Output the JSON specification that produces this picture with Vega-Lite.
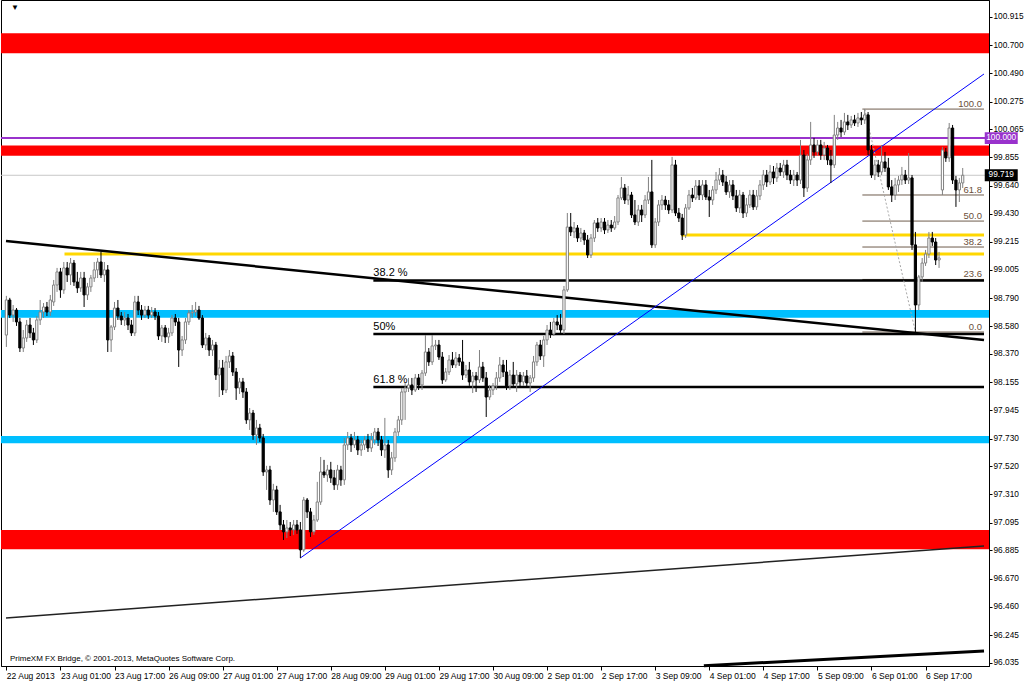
{
"$schema":"https://vega.github.io/schema/vega-lite/v6.json",
"width":988,"height":666,"autosize":"none",
"padding":{"left":1,"top":0,"right":35,"bottom":16},
"background":"#ffffff",
"config":{"view":{"stroke":"#000000","strokeWidth":1},"text":{"font":"Liberation Sans"},
 "axisX":{"labelExpr":"['22 Aug 2013','23 Aug 01:00','23 Aug 17:00','26 Aug 09:00','27 Aug 01:00','27 Aug 17:00','28 Aug 09:00','29 Aug 01:00','29 Aug 17:00','30 Aug 09:00','2 Sep 01:00','2 Sep 17:00','3 Sep 09:00','4 Sep 01:00','4 Sep 17:00','5 Sep 09:00','6 Sep 01:00','6 Sep 17:00'][round(datum.value/16)]",
    "labelAlign":"left","labelBaseline":"top","labelPadding":1,"tickSize":4,"tickColor":"#000000","domainColor":"#000000","labelColor":"#000000","labelFont":"Liberation Sans","labelFontSize":8.5,"labelOverlap":false,"labelFlush":false,"labelBound":false,"grid":false,"title":null},
 "axisY":{"tickSize":3,"labelPadding":1,"labelFont":"Liberation Sans","labelFontSize":8.3,"labelColor":"#000000","domainColor":"#000000","tickColor":"#000000","grid":false,"title":null,"labelOverlap":false,"labelFlush":false,"labelBound":false}
},
"resolve":{"scale":{"color":"independent"}},
"datasets":{
"candles":[
{"t":0,"o":98.512,"h":98.808,"l":98.422,"c":98.777},
{"t":1,"o":98.777,"h":98.793,"l":98.641,"c":98.663},
{"t":2,"o":98.663,"h":98.739,"l":98.611,"c":98.701},
{"t":3,"o":98.701,"h":98.716,"l":98.581,"c":98.611},
{"t":4,"o":98.611,"h":98.641,"l":98.384,"c":98.414},
{"t":5,"o":98.414,"h":98.550,"l":98.384,"c":98.490},
{"t":6,"o":98.490,"h":98.626,"l":98.460,"c":98.588},
{"t":7,"o":98.588,"h":98.641,"l":98.490,"c":98.528},
{"t":8,"o":98.528,"h":98.566,"l":98.437,"c":98.475},
{"t":9,"o":98.475,"h":98.656,"l":98.452,"c":98.626},
{"t":10,"o":98.626,"h":98.777,"l":98.588,"c":98.686},
{"t":11,"o":98.686,"h":98.754,"l":98.641,"c":98.724},
{"t":12,"o":98.724,"h":98.762,"l":98.656,"c":98.686},
{"t":13,"o":98.686,"h":98.815,"l":98.656,"c":98.777},
{"t":14,"o":98.762,"h":98.928,"l":98.732,"c":98.890},
{"t":15,"o":98.890,"h":99.019,"l":98.838,"c":98.989},
{"t":16,"o":98.989,"h":99.019,"l":98.793,"c":98.853},
{"t":17,"o":98.853,"h":99.064,"l":98.823,"c":99.019},
{"t":18,"o":99.019,"h":99.064,"l":98.913,"c":98.966},
{"t":19,"o":98.966,"h":99.094,"l":98.890,"c":99.056},
{"t":20,"o":99.056,"h":99.079,"l":98.883,"c":98.913},
{"t":21,"o":98.913,"h":98.989,"l":98.830,"c":98.868},
{"t":22,"o":98.868,"h":98.989,"l":98.838,"c":98.943},
{"t":23,"o":98.943,"h":98.989,"l":98.724,"c":98.815},
{"t":24,"o":98.815,"h":98.906,"l":98.777,"c":98.876},
{"t":25,"o":98.876,"h":98.966,"l":98.838,"c":98.943},
{"t":26,"o":98.943,"h":99.064,"l":98.913,"c":99.004},
{"t":27,"o":99.004,"h":99.094,"l":98.943,"c":99.064},
{"t":28,"o":99.064,"h":99.140,"l":98.943,"c":98.966},
{"t":29,"o":98.966,"h":99.064,"l":98.913,"c":99.004},
{"t":30,"o":99.004,"h":99.041,"l":98.384,"c":98.475},
{"t":31,"o":98.475,"h":98.588,"l":98.384,"c":98.573},
{"t":32,"o":98.573,"h":98.762,"l":98.550,"c":98.716},
{"t":33,"o":98.716,"h":98.777,"l":98.626,"c":98.656},
{"t":34,"o":98.656,"h":98.686,"l":98.588,"c":98.626},
{"t":35,"o":98.626,"h":98.686,"l":98.581,"c":98.641},
{"t":36,"o":98.641,"h":98.671,"l":98.550,"c":98.588},
{"t":37,"o":98.588,"h":98.626,"l":98.505,"c":98.528},
{"t":38,"o":98.528,"h":98.808,"l":98.505,"c":98.762},
{"t":39,"o":98.762,"h":98.808,"l":98.663,"c":98.701},
{"t":40,"o":98.701,"h":98.739,"l":98.626,"c":98.663},
{"t":41,"o":98.663,"h":98.732,"l":98.641,"c":98.701},
{"t":42,"o":98.701,"h":98.732,"l":98.634,"c":98.663},
{"t":43,"o":98.663,"h":98.724,"l":98.641,"c":98.686},
{"t":44,"o":98.686,"h":98.716,"l":98.626,"c":98.656},
{"t":45,"o":98.656,"h":98.686,"l":98.475,"c":98.505},
{"t":46,"o":98.505,"h":98.588,"l":98.460,"c":98.566},
{"t":47,"o":98.566,"h":98.588,"l":98.452,"c":98.498},
{"t":48,"o":98.498,"h":98.566,"l":98.452,"c":98.528},
{"t":49,"o":98.528,"h":98.663,"l":98.505,"c":98.641},
{"t":50,"o":98.641,"h":98.671,"l":98.581,"c":98.611},
{"t":51,"o":98.611,"h":98.641,"l":98.271,"c":98.399},
{"t":52,"o":98.399,"h":98.505,"l":98.354,"c":98.475},
{"t":53,"o":98.475,"h":98.641,"l":98.445,"c":98.611},
{"t":54,"o":98.611,"h":98.701,"l":98.588,"c":98.679},
{"t":55,"o":98.679,"h":98.739,"l":98.641,"c":98.686},
{"t":56,"o":98.686,"h":98.762,"l":98.656,"c":98.701},
{"t":57,"o":98.701,"h":98.732,"l":98.626,"c":98.641},
{"t":58,"o":98.641,"h":98.663,"l":98.414,"c":98.437},
{"t":59,"o":98.437,"h":98.528,"l":98.399,"c":98.490},
{"t":60,"o":98.490,"h":98.512,"l":98.354,"c":98.399},
{"t":61,"o":98.399,"h":98.475,"l":98.354,"c":98.437},
{"t":62,"o":98.437,"h":98.460,"l":98.173,"c":98.210},
{"t":63,"o":98.210,"h":98.324,"l":98.044,"c":98.263},
{"t":64,"o":98.263,"h":98.324,"l":98.059,"c":98.097},
{"t":65,"o":98.097,"h":98.354,"l":98.074,"c":98.309},
{"t":66,"o":98.309,"h":98.399,"l":98.263,"c":98.354},
{"t":67,"o":98.354,"h":98.384,"l":98.203,"c":98.233},
{"t":68,"o":98.233,"h":98.263,"l":98.022,"c":98.112},
{"t":69,"o":98.112,"h":98.188,"l":98.067,"c":98.158},
{"t":70,"o":98.158,"h":98.188,"l":98.037,"c":98.082},
{"t":71,"o":98.082,"h":98.112,"l":97.841,"c":97.871},
{"t":72,"o":97.871,"h":97.961,"l":97.795,"c":97.923},
{"t":73,"o":97.923,"h":97.946,"l":97.720,"c":97.757},
{"t":74,"o":97.757,"h":97.871,"l":97.682,"c":97.810},
{"t":75,"o":97.810,"h":97.841,"l":97.705,"c":97.735},
{"t":76,"o":97.735,"h":97.765,"l":97.448,"c":97.478},
{"t":77,"o":97.478,"h":97.524,"l":97.342,"c":97.493},
{"t":78,"o":97.493,"h":97.524,"l":97.229,"c":97.266},
{"t":79,"o":97.266,"h":97.388,"l":97.176,"c":97.342},
{"t":80,"o":97.342,"h":97.373,"l":97.153,"c":97.176},
{"t":81,"o":97.176,"h":97.229,"l":97.040,"c":97.078},
{"t":82,"o":97.078,"h":97.115,"l":96.964,"c":97.025},
{"t":83,"o":97.025,"h":97.115,"l":96.979,"c":97.055},
{"t":84,"o":97.055,"h":97.100,"l":96.994,"c":97.040},
{"t":85,"o":97.040,"h":97.115,"l":97.002,"c":97.078},
{"t":86,"o":97.078,"h":97.115,"l":97.010,"c":97.040},
{"t":87,"o":97.040,"h":97.100,"l":96.828,"c":96.889},
{"t":88,"o":96.889,"h":97.289,"l":96.874,"c":97.266},
{"t":89,"o":97.266,"h":97.281,"l":97.130,"c":97.176},
{"t":90,"o":97.176,"h":97.206,"l":96.987,"c":97.025},
{"t":91,"o":97.025,"h":97.153,"l":97.002,"c":97.115},
{"t":92,"o":97.115,"h":97.403,"l":97.100,"c":97.251},
{"t":93,"o":97.251,"h":97.591,"l":97.229,"c":97.478},
{"t":94,"o":97.478,"h":97.569,"l":97.433,"c":97.455},
{"t":95,"o":97.455,"h":97.531,"l":97.403,"c":97.493},
{"t":96,"o":97.493,"h":97.554,"l":97.395,"c":97.433},
{"t":97,"o":97.433,"h":97.493,"l":97.342,"c":97.380},
{"t":98,"o":97.380,"h":97.531,"l":97.342,"c":97.493},
{"t":99,"o":97.493,"h":97.524,"l":97.373,"c":97.418},
{"t":100,"o":97.418,"h":97.735,"l":97.380,"c":97.682},
{"t":101,"o":97.682,"h":97.780,"l":97.644,"c":97.735},
{"t":102,"o":97.735,"h":97.765,"l":97.629,"c":97.682},
{"t":103,"o":97.682,"h":97.780,"l":97.659,"c":97.720},
{"t":104,"o":97.720,"h":97.750,"l":97.606,"c":97.644},
{"t":105,"o":97.644,"h":97.720,"l":97.599,"c":97.682},
{"t":106,"o":97.682,"h":97.750,"l":97.644,"c":97.720},
{"t":107,"o":97.720,"h":97.765,"l":97.629,"c":97.659},
{"t":108,"o":97.659,"h":97.772,"l":97.629,"c":97.720},
{"t":109,"o":97.720,"h":97.810,"l":97.682,"c":97.780},
{"t":110,"o":97.780,"h":97.810,"l":97.674,"c":97.720},
{"t":111,"o":97.720,"h":97.750,"l":97.599,"c":97.644},
{"t":112,"o":97.644,"h":97.886,"l":97.584,"c":97.682},
{"t":113,"o":97.682,"h":97.720,"l":97.433,"c":97.493},
{"t":114,"o":97.493,"h":97.629,"l":97.455,"c":97.584},
{"t":115,"o":97.584,"h":97.810,"l":97.554,"c":97.780},
{"t":116,"o":97.780,"h":97.901,"l":97.750,"c":97.871},
{"t":117,"o":97.871,"h":98.112,"l":97.833,"c":98.082},
{"t":118,"o":98.082,"h":98.150,"l":97.871,"c":98.112},
{"t":119,"o":98.112,"h":98.188,"l":98.082,"c":98.135},
{"t":120,"o":98.135,"h":98.188,"l":98.059,"c":98.097},
{"t":121,"o":98.097,"h":98.218,"l":98.082,"c":98.188},
{"t":122,"o":98.188,"h":98.218,"l":98.097,"c":98.135},
{"t":123,"o":98.135,"h":98.248,"l":98.097,"c":98.225},
{"t":124,"o":98.225,"h":98.512,"l":98.203,"c":98.384},
{"t":125,"o":98.384,"h":98.414,"l":98.279,"c":98.309},
{"t":126,"o":98.309,"h":98.512,"l":98.286,"c":98.430},
{"t":127,"o":98.430,"h":98.475,"l":98.399,"c":98.437},
{"t":128,"o":98.437,"h":98.475,"l":98.324,"c":98.346},
{"t":129,"o":98.346,"h":98.384,"l":98.143,"c":98.173},
{"t":130,"o":98.173,"h":98.263,"l":98.158,"c":98.233},
{"t":131,"o":98.233,"h":98.361,"l":98.210,"c":98.324},
{"t":132,"o":98.324,"h":98.384,"l":98.263,"c":98.286},
{"t":133,"o":98.286,"h":98.384,"l":98.263,"c":98.339},
{"t":134,"o":98.339,"h":98.369,"l":98.279,"c":98.309},
{"t":135,"o":98.309,"h":98.475,"l":98.173,"c":98.210},
{"t":136,"o":98.210,"h":98.286,"l":98.188,"c":98.248},
{"t":137,"o":98.248,"h":98.309,"l":98.128,"c":98.158},
{"t":138,"o":98.158,"h":98.233,"l":98.074,"c":98.203},
{"t":139,"o":98.203,"h":98.233,"l":98.082,"c":98.173},
{"t":140,"o":98.173,"h":98.399,"l":98.150,"c":98.271},
{"t":141,"o":98.271,"h":98.309,"l":98.158,"c":98.188},
{"t":142,"o":98.188,"h":98.233,"l":97.893,"c":98.044},
{"t":143,"o":98.044,"h":98.135,"l":98.022,"c":98.097},
{"t":144,"o":98.097,"h":98.150,"l":98.059,"c":98.128},
{"t":145,"o":98.128,"h":98.233,"l":98.097,"c":98.188},
{"t":146,"o":98.188,"h":98.346,"l":98.158,"c":98.286},
{"t":147,"o":98.286,"h":98.324,"l":98.195,"c":98.233},
{"t":148,"o":98.233,"h":98.324,"l":98.097,"c":98.128},
{"t":149,"o":98.128,"h":98.248,"l":98.097,"c":98.210},
{"t":150,"o":98.210,"h":98.309,"l":98.112,"c":98.143},
{"t":151,"o":98.143,"h":98.248,"l":98.082,"c":98.210},
{"t":152,"o":98.210,"h":98.233,"l":98.112,"c":98.158},
{"t":153,"o":98.158,"h":98.233,"l":98.128,"c":98.203},
{"t":154,"o":98.203,"h":98.248,"l":98.112,"c":98.150},
{"t":155,"o":98.150,"h":98.210,"l":98.082,"c":98.188},
{"t":156,"o":98.188,"h":98.354,"l":98.158,"c":98.309},
{"t":157,"o":98.309,"h":98.460,"l":98.279,"c":98.437},
{"t":158,"o":98.437,"h":98.475,"l":98.324,"c":98.354},
{"t":159,"o":98.354,"h":98.505,"l":98.271,"c":98.475},
{"t":160,"o":98.475,"h":98.588,"l":98.437,"c":98.550},
{"t":161,"o":98.550,"h":98.611,"l":98.490,"c":98.520},
{"t":162,"o":98.520,"h":98.641,"l":98.505,"c":98.611},
{"t":163,"o":98.611,"h":98.663,"l":98.550,"c":98.588},
{"t":164,"o":98.588,"h":98.671,"l":98.528,"c":98.550},
{"t":165,"o":98.550,"h":98.883,"l":98.520,"c":98.853},
{"t":166,"o":98.853,"h":99.434,"l":98.838,"c":99.328},
{"t":167,"o":99.328,"h":99.434,"l":99.260,"c":99.291},
{"t":168,"o":99.291,"h":99.366,"l":99.245,"c":99.321},
{"t":169,"o":99.321,"h":99.343,"l":99.215,"c":99.245},
{"t":170,"o":99.245,"h":99.321,"l":99.215,"c":99.283},
{"t":171,"o":99.283,"h":99.306,"l":99.193,"c":99.230},
{"t":172,"o":99.230,"h":99.268,"l":99.094,"c":99.117},
{"t":173,"o":99.117,"h":99.275,"l":99.094,"c":99.245},
{"t":174,"o":99.245,"h":99.381,"l":99.215,"c":99.359},
{"t":175,"o":99.359,"h":99.396,"l":99.291,"c":99.321},
{"t":176,"o":99.321,"h":99.396,"l":99.291,"c":99.366},
{"t":177,"o":99.366,"h":99.396,"l":99.275,"c":99.306},
{"t":178,"o":99.306,"h":99.381,"l":99.283,"c":99.343},
{"t":179,"o":99.343,"h":99.381,"l":99.291,"c":99.321},
{"t":180,"o":99.321,"h":99.411,"l":99.306,"c":99.366},
{"t":181,"o":99.366,"h":99.570,"l":99.343,"c":99.548},
{"t":182,"o":99.548,"h":99.706,"l":99.532,"c":99.623},
{"t":183,"o":99.623,"h":99.653,"l":99.502,"c":99.532},
{"t":184,"o":99.532,"h":99.638,"l":99.495,"c":99.570},
{"t":185,"o":99.570,"h":99.593,"l":99.396,"c":99.419},
{"t":186,"o":99.419,"h":99.532,"l":99.343,"c":99.366},
{"t":187,"o":99.366,"h":99.495,"l":99.336,"c":99.457},
{"t":188,"o":99.457,"h":99.495,"l":99.366,"c":99.419},
{"t":189,"o":99.419,"h":99.570,"l":99.396,"c":99.532},
{"t":190,"o":99.532,"h":99.706,"l":99.502,"c":99.593},
{"t":191,"o":99.593,"h":99.835,"l":99.170,"c":99.193},
{"t":192,"o":99.193,"h":99.396,"l":99.170,"c":99.366},
{"t":193,"o":99.366,"h":99.532,"l":99.336,"c":99.495},
{"t":194,"o":99.495,"h":99.570,"l":99.457,"c":99.532},
{"t":195,"o":99.532,"h":99.563,"l":99.457,"c":99.495},
{"t":196,"o":99.495,"h":99.532,"l":99.427,"c":99.457},
{"t":197,"o":99.457,"h":99.858,"l":99.434,"c":99.797},
{"t":198,"o":99.797,"h":99.835,"l":99.411,"c":99.434},
{"t":199,"o":99.434,"h":99.472,"l":99.366,"c":99.396},
{"t":200,"o":99.396,"h":99.427,"l":99.230,"c":99.268},
{"t":201,"o":99.268,"h":99.502,"l":99.245,"c":99.472},
{"t":202,"o":99.472,"h":99.608,"l":99.457,"c":99.570},
{"t":203,"o":99.570,"h":99.623,"l":99.517,"c":99.548},
{"t":204,"o":99.548,"h":99.683,"l":99.532,"c":99.638},
{"t":205,"o":99.638,"h":99.683,"l":99.532,"c":99.570},
{"t":206,"o":99.570,"h":99.683,"l":99.532,"c":99.646},
{"t":207,"o":99.646,"h":99.683,"l":99.532,"c":99.555},
{"t":208,"o":99.555,"h":99.608,"l":99.404,"c":99.532},
{"t":209,"o":99.532,"h":99.638,"l":99.495,"c":99.608},
{"t":210,"o":99.608,"h":99.744,"l":99.578,"c":99.683},
{"t":211,"o":99.683,"h":99.774,"l":99.646,"c":99.721},
{"t":212,"o":99.721,"h":99.759,"l":99.638,"c":99.668},
{"t":213,"o":99.668,"h":99.714,"l":99.570,"c":99.593},
{"t":214,"o":99.593,"h":99.683,"l":99.548,"c":99.646},
{"t":215,"o":99.646,"h":99.683,"l":99.532,"c":99.563},
{"t":216,"o":99.563,"h":99.608,"l":99.442,"c":99.472},
{"t":217,"o":99.472,"h":99.608,"l":99.434,"c":99.570},
{"t":218,"o":99.570,"h":99.593,"l":99.396,"c":99.434},
{"t":219,"o":99.434,"h":99.548,"l":99.404,"c":99.495},
{"t":220,"o":99.495,"h":99.608,"l":99.472,"c":99.570},
{"t":221,"o":99.570,"h":99.608,"l":99.457,"c":99.480},
{"t":222,"o":99.480,"h":99.608,"l":99.457,"c":99.563},
{"t":223,"o":99.563,"h":99.683,"l":99.532,"c":99.646},
{"t":224,"o":99.646,"h":99.759,"l":99.608,"c":99.721},
{"t":225,"o":99.721,"h":99.759,"l":99.631,"c":99.668},
{"t":226,"o":99.668,"h":99.797,"l":99.646,"c":99.744},
{"t":227,"o":99.744,"h":99.789,"l":99.653,"c":99.699},
{"t":228,"o":99.699,"h":99.812,"l":99.668,"c":99.774},
{"t":229,"o":99.774,"h":99.812,"l":99.714,"c":99.744},
{"t":230,"o":99.744,"h":99.835,"l":99.699,"c":99.797},
{"t":231,"o":99.797,"h":99.835,"l":99.683,"c":99.721},
{"t":232,"o":99.721,"h":99.759,"l":99.653,"c":99.683},
{"t":233,"o":99.683,"h":99.759,"l":99.638,"c":99.721},
{"t":234,"o":99.721,"h":99.744,"l":99.638,"c":99.683},
{"t":235,"o":99.683,"h":99.986,"l":99.653,"c":99.872},
{"t":236,"o":99.872,"h":99.910,"l":99.555,"c":99.623},
{"t":237,"o":99.623,"h":99.880,"l":99.593,"c":99.835},
{"t":238,"o":99.835,"h":100.122,"l":99.797,"c":99.948},
{"t":239,"o":99.948,"h":100.001,"l":99.850,"c":99.895},
{"t":240,"o":99.895,"h":99.986,"l":99.865,"c":99.948},
{"t":241,"o":99.948,"h":99.986,"l":99.835,"c":99.872},
{"t":242,"o":99.872,"h":99.971,"l":99.835,"c":99.925},
{"t":243,"o":99.925,"h":99.948,"l":99.797,"c":99.835},
{"t":244,"o":99.835,"h":99.910,"l":99.661,"c":99.797},
{"t":245,"o":99.797,"h":100.175,"l":99.774,"c":100.023},
{"t":246,"o":100.023,"h":100.122,"l":99.986,"c":100.076},
{"t":247,"o":100.076,"h":100.137,"l":100.008,"c":100.046},
{"t":248,"o":100.046,"h":100.190,"l":100.023,"c":100.122},
{"t":249,"o":100.122,"h":100.175,"l":100.061,"c":100.099},
{"t":250,"o":100.099,"h":100.167,"l":100.076,"c":100.137},
{"t":251,"o":100.137,"h":100.175,"l":100.091,"c":100.114},
{"t":252,"o":100.114,"h":100.190,"l":100.084,"c":100.152},
{"t":253,"o":100.152,"h":100.197,"l":100.099,"c":100.137},
{"t":254,"o":100.137,"h":100.220,"l":100.107,"c":100.175},
{"t":255,"o":100.175,"h":100.197,"l":99.872,"c":99.910},
{"t":256,"o":99.910,"h":99.948,"l":99.699,"c":99.721},
{"t":257,"o":99.721,"h":99.835,"l":99.683,"c":99.797},
{"t":258,"o":99.797,"h":99.835,"l":99.706,"c":99.744},
{"t":259,"o":99.744,"h":99.948,"l":99.721,"c":99.820},
{"t":260,"o":99.820,"h":99.895,"l":99.744,"c":99.774},
{"t":261,"o":99.774,"h":99.850,"l":99.608,"c":99.631},
{"t":262,"o":99.631,"h":99.683,"l":99.517,"c":99.570},
{"t":263,"o":99.570,"h":99.699,"l":99.532,"c":99.646},
{"t":264,"o":99.646,"h":99.714,"l":99.593,"c":99.683},
{"t":265,"o":99.683,"h":99.782,"l":99.646,"c":99.721},
{"t":266,"o":99.721,"h":99.759,"l":99.653,"c":99.683},
{"t":267,"o":99.683,"h":99.887,"l":99.653,"c":99.699},
{"t":268,"o":99.699,"h":99.721,"l":99.155,"c":99.193},
{"t":269,"o":99.193,"h":99.291,"l":98.535,"c":98.739},
{"t":270,"o":98.739,"h":98.966,"l":98.701,"c":98.951},
{"t":271,"o":98.951,"h":99.094,"l":98.913,"c":99.056},
{"t":272,"o":99.056,"h":99.155,"l":99.034,"c":99.124},
{"t":273,"o":99.124,"h":99.291,"l":99.094,"c":99.245},
{"t":274,"o":99.245,"h":99.291,"l":99.185,"c":99.215},
{"t":275,"o":99.215,"h":99.245,"l":99.041,"c":99.079},
{"t":276,"o":99.079,"h":99.140,"l":99.019,"c":99.094},
{"t":277,"o":99.608,"h":99.933,"l":99.570,"c":99.910},
{"t":278,"o":99.895,"h":99.925,"l":99.820,"c":99.850},
{"t":279,"o":99.850,"h":100.114,"l":99.820,"c":100.076},
{"t":280,"o":100.076,"h":100.099,"l":99.653,"c":99.683},
{"t":281,"o":99.683,"h":99.714,"l":99.480,"c":99.608},
{"t":282,"o":99.608,"h":99.699,"l":99.517,"c":99.661},
{"t":283,"o":99.661,"h":99.774,"l":99.623,"c":99.719}
],
"zones":[
{"top":100.792,"bot":100.640,"k":"R"},
{"top":99.943,"bot":99.867,"k":"R"},
{"top":97.040,"bot":96.894,"k":"R"},
{"top":98.701,"bot":98.643,"k":"S"},
{"top":97.750,"bot":97.695,"k":"S"}
]
},
"layer":[
{"data":{"name":"zones"},"mark":{"type":"rect"},
 "encoding":{
  "y":{"field":"top","type":"quantitative","scale":{"domain":[96.012,101.043],"nice":false,"zero":false},"axis":{"orient":"right","values":[100.915,100.7,100.49,100.275,100.065,99.855,99.64,99.43,99.215,99.005,98.79,98.58,98.37,98.155,97.945,97.73,97.52,97.31,97.095,96.885,96.67,96.46,96.245,96.035],"format":".3f"}},
  "y2":{"field":"bot"},
  "color":{"field":"k","type":"nominal","scale":{"domain":["R","S"],"range":["#ff0000","#00bfff"]},"legend":null}}},
{"data":{"values":[{"p":100.0}]},"mark":{"type":"rule","color":"#9932cc","strokeWidth":2},
 "encoding":{"y":{"field":"p","type":"quantitative","scale":{"domain":[96.012,101.043],"nice":false,"zero":false},"axis":{"orient":"right","values":[100.915,100.7,100.49,100.275,100.065,99.855,99.64,99.43,99.215,99.005,98.79,98.58,98.37,98.155,97.945,97.73,97.52,97.31,97.095,96.885,96.67,96.46,96.245,96.035],"format":".3f"}}}},
{"data":{"values":[{"p":99.719}]},"mark":{"type":"rule","color":"#c8c8c8","strokeWidth":1},
 "encoding":{"y":{"field":"p","type":"quantitative","scale":{"domain":[96.012,101.043],"nice":false,"zero":false},"axis":{"orient":"right","values":[100.915,100.7,100.49,100.275,100.065,99.855,99.64,99.43,99.215,99.005,98.79,98.58,98.37,98.155,97.945,97.73,97.52,97.31,97.095,96.885,96.67,96.46,96.245,96.035],"format":".3f"}}}},
{"data":{"values":[{"p":99.268,"t":199.7,"t2":289.3},{"p":99.124,"t":17.2,"t2":289.3}]},
 "mark":{"type":"rule","color":"#ffd700","strokeWidth":3},
 "encoding":{"x":{"field":"t","type":"quantitative","scale":{"domain":[-0.11,289.3],"nice":false,"zero":false},"axis":{"values":[0,16,32,48,64,80,96,112,128,144,160,176,192,208,224,240,256,272]}},"x2":{"field":"t2"},
  "y":{"field":"p","type":"quantitative","scale":{"domain":[96.012,101.043],"nice":false,"zero":false},"axis":{"orient":"right","values":[100.915,100.7,100.49,100.275,100.065,99.855,99.64,99.43,99.215,99.005,98.79,98.58,98.37,98.155,97.945,97.73,97.52,97.31,97.095,96.885,96.67,96.46,96.245,96.035],"format":".3f"}}}},
{"data":{"values":[{"p":100.219,"t":253.3,"t2":289.3},{"p":99.570,"t":253.3,"t2":289.3},{"p":99.373,"t":253.3,"t2":289.3},{"p":99.177,"t":253.3,"t2":289.3},{"p":98.932,"t":253.3,"t2":289.3},{"p":98.535,"t":253.3,"t2":289.3}]},
 "mark":{"type":"rule","color":"#6e5c4c","strokeWidth":1},
 "encoding":{"x":{"field":"t","type":"quantitative","scale":{"domain":[-0.11,289.3],"nice":false,"zero":false},"axis":{"values":[0,16,32,48,64,80,96,112,128,144,160,176,192,208,224,240,256,272]}},"x2":{"field":"t2"},
  "y":{"field":"p","type":"quantitative","scale":{"domain":[96.012,101.043],"nice":false,"zero":false},"axis":{"orient":"right","values":[100.915,100.7,100.49,100.275,100.065,99.855,99.64,99.43,99.215,99.005,98.79,98.58,98.37,98.155,97.945,97.73,97.52,97.31,97.095,96.885,96.67,96.46,96.245,96.035],"format":".3f"}}}},
{"data":{"values":[{"p":98.925,"t":108.6,"t2":289.3},{"p":98.520,"t":108.6,"t2":289.3},{"p":98.120,"t":108.6,"t2":289.3}]},
 "mark":{"type":"rule","color":"#000000","strokeWidth":2.5},
 "encoding":{"x":{"field":"t","type":"quantitative","scale":{"domain":[-0.11,289.3],"nice":false,"zero":false},"axis":{"values":[0,16,32,48,64,80,96,112,128,144,160,176,192,208,224,240,256,272]}},"x2":{"field":"t2"},
  "y":{"field":"p","type":"quantitative","scale":{"domain":[96.012,101.043],"nice":false,"zero":false},"axis":{"orient":"right","values":[100.915,100.7,100.49,100.275,100.065,99.855,99.64,99.43,99.215,99.005,98.79,98.58,98.37,98.155,97.945,97.73,97.52,97.31,97.095,96.885,96.67,96.46,96.245,96.035],"format":".3f"}}}},
{"data":{"values":[{"t":-0.11,"p":99.222,"t2":289.3,"p2":98.475}]},
 "mark":{"type":"rule","color":"#000000","strokeWidth":2.5},
 "encoding":{"x":{"field":"t","type":"quantitative","scale":{"domain":[-0.11,289.3],"nice":false,"zero":false},"axis":{"values":[0,16,32,48,64,80,96,112,128,144,160,176,192,208,224,240,256,272]}},"x2":{"field":"t2"},
  "y":{"field":"p","type":"quantitative","scale":{"domain":[96.012,101.043],"nice":false,"zero":false},"axis":{"orient":"right","values":[100.915,100.7,100.49,100.275,100.065,99.855,99.64,99.43,99.215,99.005,98.79,98.58,98.37,98.155,97.945,97.73,97.52,97.31,97.095,96.885,96.67,96.46,96.245,96.035],"format":".3f"}},"y2":{"field":"p2"}}},
{"data":{"values":[{"t":-0.11,"p":96.375,"t2":289.3,"p2":96.919}]},
 "mark":{"type":"rule","color":"#222222","strokeWidth":1.5},
 "encoding":{"x":{"field":"t","type":"quantitative","scale":{"domain":[-0.11,289.3],"nice":false,"zero":false},"axis":{"values":[0,16,32,48,64,80,96,112,128,144,160,176,192,208,224,240,256,272]}},"x2":{"field":"t2"},
  "y":{"field":"p","type":"quantitative","scale":{"domain":[96.012,101.043],"nice":false,"zero":false},"axis":{"orient":"right","values":[100.915,100.7,100.49,100.275,100.065,99.855,99.64,99.43,99.215,99.005,98.79,98.58,98.37,98.155,97.945,97.73,97.52,97.31,97.095,96.885,96.67,96.46,96.245,96.035],"format":".3f"}},"y2":{"field":"p2"}}},
{"data":{"values":[{"t":206.4,"p":96.014,"t2":289.3,"p2":96.126}]},
 "mark":{"type":"rule","color":"#000000","strokeWidth":3},
 "encoding":{"x":{"field":"t","type":"quantitative","scale":{"domain":[-0.11,289.3],"nice":false,"zero":false},"axis":{"values":[0,16,32,48,64,80,96,112,128,144,160,176,192,208,224,240,256,272]}},"x2":{"field":"t2"},
  "y":{"field":"p","type":"quantitative","scale":{"domain":[96.012,101.043],"nice":false,"zero":false},"axis":{"orient":"right","values":[100.915,100.7,100.49,100.275,100.065,99.855,99.64,99.43,99.215,99.005,98.79,98.58,98.37,98.155,97.945,97.73,97.52,97.31,97.095,96.885,96.67,96.46,96.245,96.035],"format":".3f"}},"y2":{"field":"p2"}}},
{"data":{"values":[{"t":87,"p":96.828,"t2":289.3,"p2":100.484}]},
 "mark":{"type":"rule","color":"#0000ff","strokeWidth":1},
 "encoding":{"x":{"field":"t","type":"quantitative","scale":{"domain":[-0.11,289.3],"nice":false,"zero":false},"axis":{"values":[0,16,32,48,64,80,96,112,128,144,160,176,192,208,224,240,256,272]}},"x2":{"field":"t2"},
  "y":{"field":"p","type":"quantitative","scale":{"domain":[96.012,101.043],"nice":false,"zero":false},"axis":{"orient":"right","values":[100.915,100.7,100.49,100.275,100.065,99.855,99.64,99.43,99.215,99.005,98.79,98.58,98.37,98.155,97.945,97.73,97.52,97.31,97.095,96.885,96.67,96.46,96.245,96.035],"format":".3f"}},"y2":{"field":"p2"}}},
{"data":{"values":[{"t":254,"p":100.219,"t2":269,"p2":98.535}]},
 "mark":{"type":"rule","color":"#a8a8a8","strokeWidth":1,"strokeDash":[2,2]},
 "encoding":{"x":{"field":"t","type":"quantitative","scale":{"domain":[-0.11,289.3],"nice":false,"zero":false},"axis":{"values":[0,16,32,48,64,80,96,112,128,144,160,176,192,208,224,240,256,272]}},"x2":{"field":"t2"},
  "y":{"field":"p","type":"quantitative","scale":{"domain":[96.012,101.043],"nice":false,"zero":false},"axis":{"orient":"right","values":[100.915,100.7,100.49,100.275,100.065,99.855,99.64,99.43,99.215,99.005,98.79,98.58,98.37,98.155,97.945,97.73,97.52,97.31,97.095,96.885,96.67,96.46,96.245,96.035],"format":".3f"}},"y2":{"field":"p2"}}},
{"data":{"name":"candles"},"mark":{"type":"rule","strokeWidth":1},
 "encoding":{
  "x":{"field":"t","type":"quantitative","scale":{"domain":[-0.11,289.3],"nice":false,"zero":false},"axis":{"values":[0,16,32,48,64,80,96,112,128,144,160,176,192,208,224,240,256,272]}},
  "y":{"field":"l","type":"quantitative","scale":{"domain":[96.012,101.043],"nice":false,"zero":false},"axis":{"orient":"right","values":[100.915,100.7,100.49,100.275,100.065,99.855,99.64,99.43,99.215,99.005,98.79,98.58,98.37,98.155,97.945,97.73,97.52,97.31,97.095,96.885,96.67,96.46,96.245,96.035],"format":".3f"}},
  "y2":{"field":"h"},
  "color":{"condition":{"test":"datum.c < datum.o","value":"#000000"},"value":"#808080"}}},
{"data":{"name":"candles"},"mark":{"type":"bar","width":2.2,"strokeWidth":1},
 "encoding":{
  "x":{"field":"t","type":"quantitative","scale":{"domain":[-0.11,289.3],"nice":false,"zero":false},"axis":{"values":[0,16,32,48,64,80,96,112,128,144,160,176,192,208,224,240,256,272]}},
  "y":{"field":"o","type":"quantitative","scale":{"domain":[96.012,101.043],"nice":false,"zero":false},"axis":{"orient":"right","values":[100.915,100.7,100.49,100.275,100.065,99.855,99.64,99.43,99.215,99.005,98.79,98.58,98.37,98.155,97.945,97.73,97.52,97.31,97.095,96.885,96.67,96.46,96.245,96.035],"format":".3f"}},
  "y2":{"field":"c"},
  "fill":{"condition":{"test":"datum.c < datum.o","value":"#000000"},"value":"#ffffff"},
  "stroke":{"condition":{"test":"datum.c < datum.o","value":"#000000"},"value":"#808080"}}},
{"data":{"values":[{"p":98.925,"t":108.6,"lab":"38.2 %"},{"p":98.520,"t":108.6,"lab":"50%"},{"p":98.120,"t":108.6,"lab":"61.8 %"}]},
 "mark":{"type":"text","align":"left","baseline":"alphabetic","dy":-4,"fontSize":11,"color":"#000000","font":"Liberation Sans"},
 "encoding":{"x":{"field":"t","type":"quantitative","scale":{"domain":[-0.11,289.3],"nice":false,"zero":false},"axis":{"values":[0,16,32,48,64,80,96,112,128,144,160,176,192,208,224,240,256,272]}},
  "y":{"field":"p","type":"quantitative","scale":{"domain":[96.012,101.043],"nice":false,"zero":false},"axis":{"orient":"right","values":[100.915,100.7,100.49,100.275,100.065,99.855,99.64,99.43,99.215,99.005,98.79,98.58,98.37,98.155,97.945,97.73,97.52,97.31,97.095,96.885,96.67,96.46,96.245,96.035],"format":".3f"}},
  "text":{"field":"lab"}}},
{"data":{"values":[{"p":100.219,"t":289.3,"lab":"100.0"},{"p":99.570,"t":289.3,"lab":"61.8"},{"p":99.373,"t":289.3,"lab":"50.0"},{"p":99.177,"t":289.3,"lab":"38.2"},{"p":98.932,"t":289.3,"lab":"23.6"},{"p":98.535,"t":289.3,"lab":"0.0"}]},
 "mark":{"type":"text","align":"right","baseline":"alphabetic","dx":-2,"dy":-2,"fontSize":9.5,"color":"#6b4f3a","font":"Liberation Sans"},
 "encoding":{"x":{"field":"t","type":"quantitative","scale":{"domain":[-0.11,289.3],"nice":false,"zero":false},"axis":{"values":[0,16,32,48,64,80,96,112,128,144,160,176,192,208,224,240,256,272]}},
  "y":{"field":"p","type":"quantitative","scale":{"domain":[96.012,101.043],"nice":false,"zero":false},"axis":{"orient":"right","values":[100.915,100.7,100.49,100.275,100.065,99.855,99.64,99.43,99.215,99.005,98.79,98.58,98.37,98.155,97.945,97.73,97.52,97.31,97.095,96.885,96.67,96.46,96.245,96.035],"format":".3f"}},
  "text":{"field":"lab"}}},
{"data":{"values":[{"p":100.0,"k":"P","lab":"100.000"},{"p":99.719,"k":"B","lab":"99.719"}]},
 "mark":{"type":"point","shape":"M-1,-0.36L1,-0.36L1,0.36L-1,0.36Z","size":1089,"filled":true,"opacity":1,"strokeWidth":0},
 "encoding":{"x":{"datum":294.4,"type":"quantitative","scale":{"domain":[-0.11,289.3],"nice":false,"zero":false},"axis":{"values":[0,16,32,48,64,80,96,112,128,144,160,176,192,208,224,240,256,272]}},
  "y":{"field":"p","type":"quantitative","scale":{"domain":[96.012,101.043],"nice":false,"zero":false},"axis":{"orient":"right","values":[100.915,100.7,100.49,100.275,100.065,99.855,99.64,99.43,99.215,99.005,98.79,98.58,98.37,98.155,97.945,97.73,97.52,97.31,97.095,96.885,96.67,96.46,96.245,96.035],"format":".3f"}},
  "color":{"field":"k","type":"nominal","scale":{"domain":["P","B"],"range":["#9932cc","#000000"]},"legend":null}}},
{"data":{"values":[{"p":100.0,"lab":"100.000"},{"p":99.719,"lab":"99.719"}]},
 "mark":{"type":"text","align":"center","baseline":"middle","fontSize":8.3,"color":"#ffffff","font":"Liberation Sans"},
 "encoding":{"x":{"datum":294.4,"type":"quantitative","scale":{"domain":[-0.11,289.3],"nice":false,"zero":false},"axis":{"values":[0,16,32,48,64,80,96,112,128,144,160,176,192,208,224,240,256,272]}},
  "y":{"field":"p","type":"quantitative","scale":{"domain":[96.012,101.043],"nice":false,"zero":false},"axis":{"orient":"right","values":[100.915,100.7,100.49,100.275,100.065,99.855,99.64,99.43,99.215,99.005,98.79,98.58,98.37,98.155,97.945,97.73,97.52,97.31,97.095,96.885,96.67,96.46,96.245,96.035],"format":".3f"}},
  "text":{"field":"lab"}}},
{"data":{"values":[{"t":1.06,"p":96.050,"lab":"PrimeXM FX Bridge, © 2001-2013, MetaQuotes Software Corp."},{"t":1.4,"p":100.967,"lab":"▼"}]},
 "mark":{"type":"text","align":"left","baseline":"alphabetic","fontSize":8,"color":"#000000","font":"Liberation Sans"},
 "encoding":{"x":{"field":"t","type":"quantitative","scale":{"domain":[-0.11,289.3],"nice":false,"zero":false},"axis":{"values":[0,16,32,48,64,80,96,112,128,144,160,176,192,208,224,240,256,272]}},
  "y":{"field":"p","type":"quantitative","scale":{"domain":[96.012,101.043],"nice":false,"zero":false},"axis":{"orient":"right","values":[100.915,100.7,100.49,100.275,100.065,99.855,99.64,99.43,99.215,99.005,98.79,98.58,98.37,98.155,97.945,97.73,97.52,97.31,97.095,96.885,96.67,96.46,96.245,96.035],"format":".3f"}},
  "text":{"field":"lab"}}}
]
}
